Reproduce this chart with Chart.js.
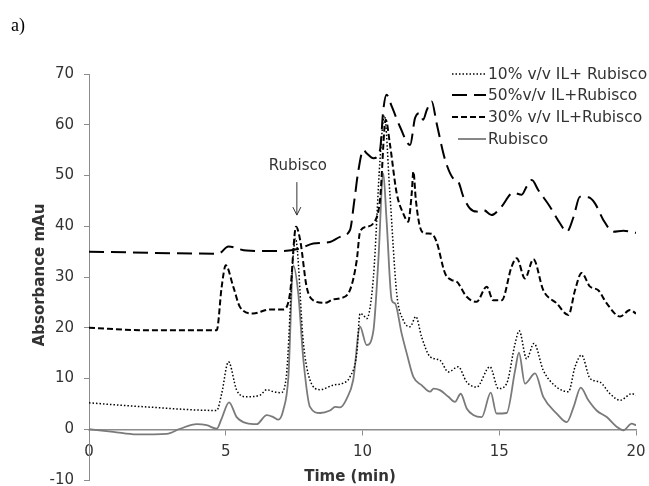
<!DOCTYPE html>
<html>
<head>
<meta charset="utf-8">
<script src="https://cdn.jsdelivr.net/npm/chart.js@4.4.1/dist/chart.umd.min.js"></script>
<style>
  html, body { margin: 0; padding: 0; background: #fff; }
  #wrap { width: 649px; height: 486px; }
</style>
</head>
<body>
<div id="wrap"><canvas id="chart" width="649" height="486"></canvas></div>
<script>
/* ---------- Data ---------- */
const xTicks = [0, 5, 10, 15, 20];
const yTicks = [-10, 0, 10, 20, 30, 40, 50, 60, 70];

const labels = ["10% v/v IL+ Rubisco", "50%v/v IL+Rubisco", "30% v/v IL+Rubisco", "Rubisco"];

const time10 = [0, 2.1, 4.67, 4.85, 5.1, 5.4, 5.76, 6.25, 6.5, 6.74, 7.0, 7.2, 7.47, 7.55, 7.84, 8.08, 8.45, 8.93, 9.3, 9.54, 9.79, 9.91, 10.03, 10.15, 10.4, 10.64, 10.8, 11.0, 11.25, 11.49, 11.74, 11.95, 12.16, 12.47, 12.83, 13.14, 13.5, 13.81, 14.17, 14.66, 14.97, 15.27, 15.58, 15.73, 16.0, 16.27, 16.61, 17.1, 17.53, 17.77, 18.01, 18.32, 18.68, 19.05, 19.42, 19.84, 20.0];
const abs10 = [5.2, 4.4, 3.7, 7.0, 13.3, 7.7, 6.4, 6.7, 7.8, 7.4, 7.2, 9.7, 34.6, 37.6, 16.9, 9.7, 7.8, 8.7, 9.1, 10.3, 14.9, 22.8, 22.5, 21.8, 30.0, 53.0, 61.8, 46.5, 26.8, 21.5, 20.2, 22.2, 18.2, 14.3, 13.6, 11.3, 12.3, 9.3, 8.3, 12.3, 8.0, 9.0, 16.9, 19.4, 13.9, 16.9, 11.6, 8.3, 7.4, 12.3, 14.6, 10.0, 9.3, 7.0, 5.7, 7.0, 6.7];

const time50 = [0, 4.73, 5.1, 5.76, 6.98, 7.7, 8.2, 8.81, 9.18, 9.54, 9.7, 9.85, 10.03, 10.15, 10.4, 10.64, 10.76, 10.88, 11.07, 11.37, 11.74, 11.92, 12.1, 12.22, 12.35, 12.53, 12.71, 13.02, 13.32, 13.5, 13.69, 13.93, 14.17, 14.42, 14.72, 15.03, 15.52, 15.82, 16.0, 16.19, 16.43, 16.85, 17.22, 17.47, 17.72, 17.95, 18.26, 18.5, 18.81, 19.17, 19.54, 20.0];
const abs50 = [35.0, 34.6, 36.0, 35.2, 35.1, 35.6, 36.6, 36.9, 37.9, 39.2, 45.0, 51.0, 55.0, 54.4, 53.4, 55.0, 62.9, 65.9, 63.6, 59.6, 56.0, 61.3, 62.3, 61.0, 62.9, 64.6, 60.3, 53.1, 49.4, 48.8, 45.8, 43.5, 42.9, 43.2, 42.2, 43.5, 46.6, 46.2, 47.8, 49.1, 47.1, 43.9, 40.6, 38.9, 41.9, 45.8, 45.7, 44.5, 41.2, 38.9, 39.1, 38.7];

const time30 = [0, 2.1, 4.55, 4.67, 4.85, 5.0, 5.28, 5.52, 6.0, 6.6, 7.1, 7.35, 7.57, 7.72, 7.96, 8.2, 8.63, 8.93, 9.18, 9.54, 9.79, 9.91, 10.15, 10.4, 10.64, 10.85, 11.0, 11.25, 11.49, 11.67, 11.8, 11.86, 11.95, 12.1, 12.29, 12.53, 12.71, 13.02, 13.26, 13.44, 13.81, 14.17, 14.54, 14.78, 15.09, 15.45, 15.64, 15.94, 16.25, 16.61, 17.1, 17.53, 17.77, 18.01, 18.32, 18.62, 18.93, 19.42, 19.78, 20.0];
const abs30 = [20.0, 19.5, 19.5, 19.5, 28.0, 32.3, 28.0, 24.1, 22.8, 23.6, 23.6, 26.8, 39.9, 37.3, 28.0, 25.4, 24.9, 25.6, 25.8, 27.4, 33.3, 38.9, 39.9, 40.6, 45.2, 61.0, 56.3, 46.5, 42.5, 40.9, 46.5, 50.8, 45.2, 39.9, 38.6, 38.5, 36.9, 30.7, 29.4, 29.1, 26.1, 25.1, 28.1, 25.4, 25.4, 32.0, 33.7, 29.7, 33.5, 27.4, 24.8, 22.5, 27.4, 30.8, 28.1, 27.4, 24.8, 22.2, 23.5, 22.8];

const timeRub = [0, 0.89, 1.74, 2.84, 3.33, 3.94, 4.3, 4.67, 4.85, 5.12, 5.4, 5.76, 6.13, 6.5, 6.74, 6.92, 7.1, 7.29, 7.47, 7.65, 7.84, 8.08, 8.45, 8.81, 9.0, 9.18, 9.42, 9.66, 9.91, 10.15, 10.4, 10.58, 10.76, 10.88, 11.07, 11.19, 11.43, 11.62, 11.86, 12.16, 12.47, 12.6, 12.83, 13.14, 13.38, 13.59, 13.81, 14.05, 14.36, 14.69, 14.9, 15.27, 15.58, 15.72, 15.94, 16.31, 16.61, 17.1, 17.47, 17.72, 17.98, 18.26, 18.56, 18.93, 19.29, 19.54, 19.84, 20.0];
const absRub = [0, -0.5, -1.0, -0.9, 0.1, 1.0, 0.8, 0.1, 2.1, 5.3, 2.4, 1.2, 1.0, 2.8, 2.4, 1.9, 3.7, 10.3, 32.3, 26.8, 13.6, 4.4, 3.2, 3.7, 4.4, 4.3, 6.0, 9.7, 20.2, 16.6, 19.5, 33.3, 50.4, 41.2, 25.4, 24.8, 18.9, 14.9, 10.3, 8.7, 7.4, 8.0, 7.7, 6.4, 5.4, 7.0, 4.1, 2.8, 2.4, 7.2, 3.1, 3.2, 11.6, 15.1, 9.0, 11.0, 6.4, 3.1, 1.4, 4.4, 8.2, 5.7, 3.7, 2.4, 0.5, -0.2, 1.1, 0.8];

/* ---------- Helpers ---------- */
function toPoints(xs, ys) {
  return xs.map((x, i) => ({ x: x, y: ys[i] }));
}

const FONT = "'DejaVu Sans', Verdana, sans-serif";
const TEXT = "#333333";
const AXIS = "#8c8c8c";

/* ---------- Overlay: panel tag, axis titles, legend, peak marker ---------- */
const overlay = {
  id: "overlay",
  afterDraw(chart) {
    const ctx = chart.ctx;
    const xs = chart.scales.x;
    const ys = chart.scales.y;
    ctx.save();

    // "a)"
    ctx.fillStyle = "#000";
    ctx.font = "18px 'Liberation Serif', 'Times New Roman', serif";
    ctx.textAlign = "left";
    ctx.textBaseline = "middle";
    ctx.fillText("a)", 11, 26);

    // axis titles
    ctx.fillStyle = TEXT;
    ctx.font = "bold 15px " + FONT;
    ctx.textAlign = "center";
    ctx.fillText("Time (min)", 350, 477);
    ctx.save();
    ctx.translate(40, 275);
    ctx.rotate(-Math.PI / 2);
    ctx.fillText("Absorbance mAu", 0, 0);
    ctx.restore();

    // Rubisco marker
    const ax = xs.getPixelForValue(7.6);
    ctx.font = "15px " + FONT;
    ctx.fillText("Rubisco", ax + 1, ys.getPixelForValue(51.9));
    const top = ys.getPixelForValue(48.7);
    const tip = ys.getPixelForValue(42.2);
    ctx.strokeStyle = "#333";
    ctx.lineWidth = 1;
    ctx.beginPath();
    ctx.moveTo(ax, top);
    ctx.lineTo(ax, tip);
    ctx.moveTo(ax - 4, tip - 8);
    ctx.lineTo(ax, tip);
    ctx.lineTo(ax + 4, tip - 8);
    ctx.stroke();

    // legend
    const rows = [74, 95, 117, 139];
    ctx.textAlign = "left";
    ctx.font = "15.5px " + FONT;
    chart.data.datasets.forEach((ds, i) => {
      const y = rows[i];
      ctx.strokeStyle = ds.borderColor;
      ctx.lineWidth = ds.borderWidth;
      ctx.setLineDash(ds.borderDash || []);
      ctx.beginPath();
      ctx.moveTo(i === 3 ? 458 : 452, y);
      ctx.lineTo(486, y);
      ctx.stroke();
      ctx.setLineDash([]);
      ctx.fillStyle = TEXT;
      ctx.fillText(ds.label, 488, y + 1);
    });

    ctx.restore();
  }
};

/* ---------- Chart ---------- */
const lineCommon = {
  pointRadius: 0,
  fill: false,
  cubicInterpolationMode: "monotone"
};

new Chart(document.getElementById("chart"), {
  type: "line",
  data: {
    datasets: [
      { ...lineCommon, label: labels[0], data: toPoints(time10, abs10), borderColor: "#000", borderWidth: 1.5, borderDash: [1.5, 2] },
      { ...lineCommon, label: labels[1], data: toPoints(time50, abs50), borderColor: "#000", borderWidth: 2, borderDash: [15, 7] },
      { ...lineCommon, label: labels[2], data: toPoints(time30, abs30), borderColor: "#000", borderWidth: 2, borderDash: [6, 3] },
      { ...lineCommon, label: labels[3], data: toPoints(timeRub, absRub), borderColor: "#7a7a7a", borderWidth: 1.8 }
    ]
  },
  options: {
    responsive: false,
    animation: false,
    devicePixelRatio: 1,
    layout: { padding: { left: 0, top: 74, right: 13, bottom: 6 } },
    plugins: {
      legend: { display: false },
      tooltip: { enabled: false }
    },
    scales: {
      x: {
        type: "linear",
        position: { y: 0 },
        min: 0,
        max: 20,
        afterFit: (s) => { s.height = 0; s.paddingLeft = 0; s.paddingRight = 0; },
        afterBuildTicks: (s) => { s.ticks = xTicks.map((v) => ({ value: v })); },
        grid: { drawOnChartArea: false, drawTicks: true, tickLength: 5, color: AXIS },
        border: { color: AXIS, width: 1.5 },
        ticks: { color: TEXT, padding: 9, font: { family: FONT, size: 15 } }
      },
      y: {
        min: -10,
        max: 70,
        afterFit: (s) => { s.width = 89; s.paddingTop = 0; s.paddingBottom = 0; },
        afterBuildTicks: (s) => { s.ticks = yTicks.map((v) => ({ value: v })); },
        grid: { drawOnChartArea: false, drawTicks: true, tickLength: 5, color: AXIS },
        border: { color: AXIS, width: 1 },
        ticks: { color: TEXT, padding: 10, font: { family: FONT, size: 15 } }
      }
    }
  },
  plugins: [overlay]
});
</script>
</body>
</html>
